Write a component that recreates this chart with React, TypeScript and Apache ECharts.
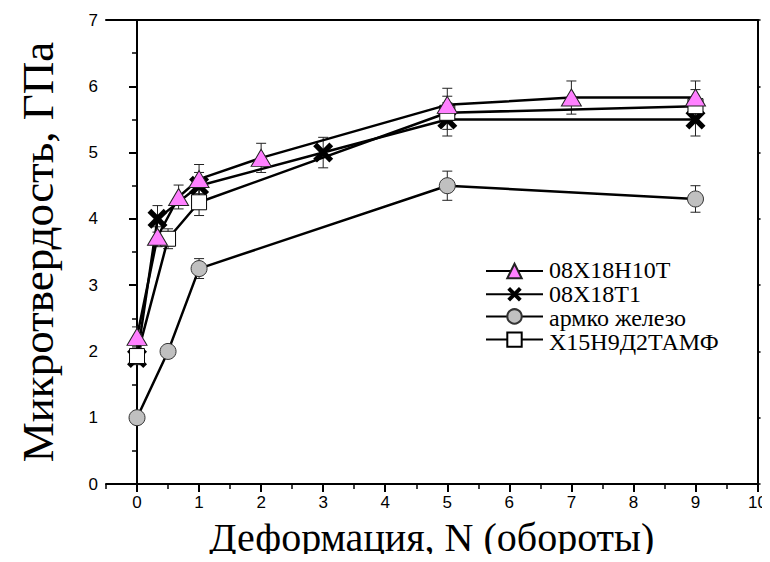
import React, { useEffect, useRef } from "react";
import * as echarts from "echarts";

const seriesNames = ["08Х18Н10Т", "08Х18Т1", "армко железо", "Х15Н9Д2ТАМФ"];

const xTri = [0, 0.33, 0.67, 1, 2, 5, 7, 9];
const yTri = [2.22, 3.73, 4.33, 4.6, 4.92, 5.72, 5.83, 5.83];
const eTri = [0.15, 0.15, 0.18, 0.22, 0.22, 0.25, 0.25, 0.25];

const xCross = [0, 0.33, 1, 3, 5, 9];
const yCross = [1.9, 4.0, 4.5, 5.0, 5.5, 5.5];
const eCross = [0.1, 0.2, 0.2, 0.23, 0.25, 0.25];

const xCirc = [0, 0.5, 1, 5, 9];
const yCirc = [1.0, 2.0, 3.25, 4.5, 4.3];
const eCirc = [0.08, 0.05, 0.15, 0.22, 0.2];

const xSq = [0, 0.5, 1, 5, 9];
const ySq = [1.93, 3.7, 4.25, 5.6, 5.7];
const eSq = [0.12, 0.15, 0.2, 0.25, 0.25];

const xTicks = [0, 1, 2, 3, 4, 5, 6, 7, 8, 9, 10];

const crossPath =
  "path://M0,1.9L1.9,0L5,3.1L8.1,0L10,1.9L6.9,5L10,8.1L8.1,10L5,6.9L1.9,10L0,8.1L3.1,5Z";

const pts = (xs: number[], ys: number[]) => xs.map((x, i) => [x, ys[i]]);
const errPts = (xs: number[], ys: number[], es: number[]) =>
  xs.map((x, i) => [x, ys[i], es[i]]);

const errorSeries = (data: number[][], z: number) => ({
  type: "custom",
  xAxisIndex: 0,
  yAxisIndex: 0,
  z,
  silent: true,
  data,
  renderItem: (params: any, api: any) => {
    const x = api.value(0);
    const y = api.value(1);
    const e = api.value(2);
    const top = api.coord([x, y + e]);
    const bot = api.coord([x, y - e]);
    const hw = 5;
    const st = { stroke: "#222", lineWidth: 1 };
    return {
      type: "group",
      children: [
        { type: "line", shape: { x1: top[0], y1: top[1], x2: bot[0], y2: bot[1] }, style: st },
        { type: "line", shape: { x1: top[0] - hw, y1: top[1], x2: top[0] + hw, y2: top[1] }, style: st },
        { type: "line", shape: { x1: bot[0] - hw, y1: bot[1], x2: bot[0] + hw, y2: bot[1] }, style: st },
      ],
    };
  },
});

export default function App() {
  const ref = useRef<HTMLDivElement>(null);
  useEffect(() => {
    if (!ref.current) return;
    const chart = echarts.init(ref.current, undefined, { renderer: "svg" });
    const serif = "Liberation Serif";
    const sans = "Liberation Sans";
    const lineStyle = { color: "#000", width: 2.5 };
    const legendTop = 262;
    const rowH = 24;
    chart.setOption({
      animation: false,
      backgroundColor: "#fff",
      textStyle: { fontFamily: serif },
      grid: { left: 106, right: 12, top: 20, bottom: 76, containLabel: false },
      legend: {
        data: seriesNames,
        orient: "vertical",
        left: 485,
        top: legendTop,
        padding: 0,
        itemWidth: 57,
        itemHeight: 18,
        itemGap: rowH - 18,
        formatter: () => "",
        selectedMode: false,
      },
      graphic: seriesNames.map((n, i) => ({
        type: "text",
        left: 549,
        top: legendTop + i * rowH + 9 - 13,
        style: { text: n, fontFamily: serif, fontSize: 24, fill: "#000" },
      })),
      xAxis: [
        {
          type: "value",
          position: "bottom",
          min: -0.5,
          max: 10,
          name: "Деформация, N (обороты)",
          nameLocation: "middle",
          nameGap: 33,
          nameTextStyle: { fontFamily: serif, fontSize: 40, color: "#000" },
          axisLine: { show: true, lineStyle: { color: "#000", width: 2 } },
          axisTick: { show: true, customValues: xTicks, length: 8, lineStyle: { color: "#000", width: 2 } },
          axisLabel: { show: true, customValues: xTicks, fontFamily: sans, fontSize: 17, color: "#000", margin: 10 },
          splitLine: { show: false },
        },
        {
          type: "value",
          position: "bottom",
          min: -0.5,
          max: 10,
          interval: 0.5,
          axisLine: { show: false },
          axisTick: { show: true, length: 5, lineStyle: { color: "#000", width: 1.5 } },
          axisLabel: { show: false },
          splitLine: { show: false },
        },
        {
          type: "value",
          position: "top",
          min: -0.5,
          max: 10,
          axisLine: { show: true, onZero: false, lineStyle: { color: "#000", width: 2 } },
          axisTick: { show: false },
          axisLabel: { show: false },
          splitLine: { show: false },
        },
      ],
      yAxis: [
        {
          type: "value",
          position: "left",
          min: 0,
          max: 7,
          interval: 1,
          name: "Микротвердость, ГПа",
          nameLocation: "middle",
          nameGap: 46,
          nameTextStyle: { fontFamily: serif, fontSize: 45, color: "#000" },
          axisLine: { show: true, lineStyle: { color: "#000", width: 2 } },
          axisTick: { show: true, length: 8, lineStyle: { color: "#000", width: 2 } },
          minorTick: { show: true, splitNumber: 2, length: 5, lineStyle: { color: "#000", width: 1.5 } },
          axisLabel: { fontFamily: sans, fontSize: 17, color: "#000", margin: 8 },
          splitLine: { show: false },
        },
        {
          type: "value",
          position: "right",
          min: 0,
          max: 7,
          interval: 1,
          axisLine: { show: true, onZero: false, lineStyle: { color: "#000", width: 2 } },
          axisTick: { show: true, length: 3, lineStyle: { color: "#000", width: 1.5 } },
          axisLabel: { show: false },
          splitLine: { show: false },
        },
      ],
      series: [
        errorSeries(errPts(xCirc, yCirc, eCirc), 1),
        errorSeries(errPts(xSq, ySq, eSq), 1),
        errorSeries(errPts(xCross, yCross, eCross), 1),
        errorSeries(errPts(xTri, yTri, eTri), 1),
        {
          name: seriesNames[2],
          type: "line",
          data: pts(xCirc, yCirc),
          symbol: "circle",
          symbolSize: 16,
          lineStyle,
          itemStyle: { color: "#c0c0c0", borderColor: "#333", borderWidth: 1 },
          z: 3,
        },
        {
          name: seriesNames[1],
          type: "line",
          data: pts(xCross, yCross),
          symbol: crossPath,
          symbolSize: 20,
          lineStyle,
          itemStyle: { color: "#000", borderWidth: 0 },
          z: 4,
        },
        {
          name: seriesNames[3],
          type: "line",
          data: pts(xSq, ySq),
          symbol: "rect",
          symbolSize: 15,
          lineStyle,
          itemStyle: { color: "#fff", borderColor: "#000", borderWidth: 1 },
          z: 5,
        },
        {
          name: seriesNames[0],
          type: "line",
          data: pts(xTri, yTri),
          symbol: "triangle",
          symbolSize: [20, 17],
          lineStyle,
          itemStyle: { color: "#ff80ff", borderColor: "#222", borderWidth: 1 },
          z: 6,
        },
      ],
    });
    return () => chart.dispose();
  }, []);
  return <div ref={ref} style={{ width: 770, height: 562, margin: -8 }} />;
}
